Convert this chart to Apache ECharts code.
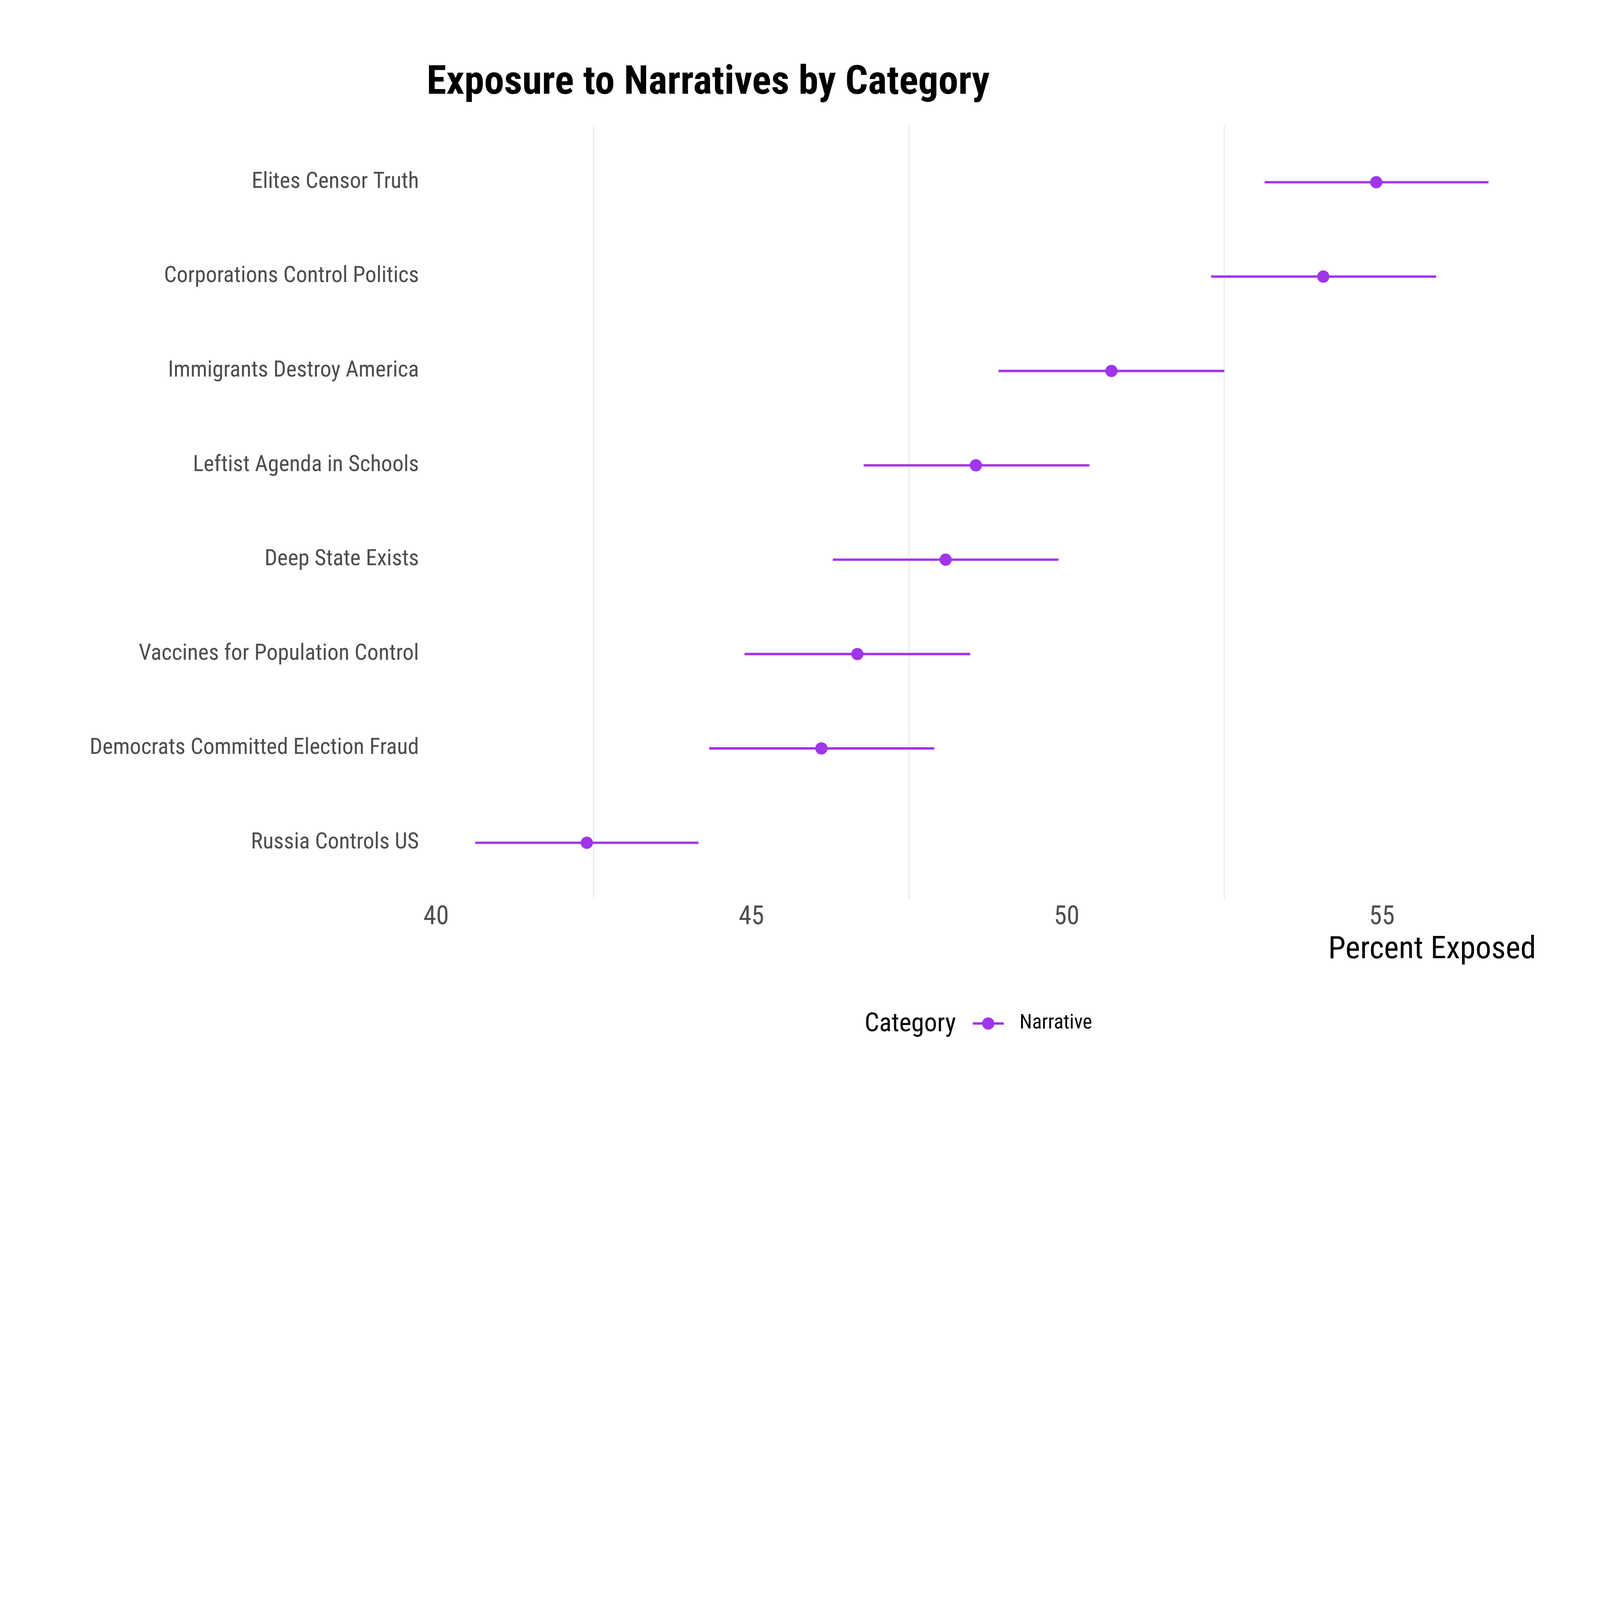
<!DOCTYPE html>
<html>
<head>
<meta charset="utf-8">
<script src="https://cdn.jsdelivr.net/npm/echarts@6/dist/echarts.min.js"></script>
<style>
html,body{margin:0;padding:0;background:#ffffff;overflow:hidden;}
</style>
</head>
<body>
<div id="chart"></div>
<script>
// ---- data ----
const categories = [
  'Elites Censor Truth',
  'Corporations Control Politics',
  'Immigrants Destroy America',
  'Leftist Agenda in Schools',
  'Deep State Exists',
  'Vaccines for Population Control',
  'Democrats Committed Election Fraud',
  'Russia Controls US'
];
const estimates = [54.91, 54.07, 50.71, 48.56, 48.08, 46.68, 46.11, 42.39];
const lowerCI   = [53.14, 52.29, 48.92, 46.78, 46.29, 44.89, 44.33, 40.62];
const upperCI   = [56.69, 55.86, 52.50, 50.36, 49.87, 48.47, 47.90, 44.16];
const xTickValues = [40, 45, 50, 55];
const xGridValues = [42.5, 47.5, 52.5];
const seriesName = 'Narrative';

// ---- layout (designed for 6000x4200, scaled to the window) ----
const BASE_W = 6000, BASE_H = 4200;
const s = Math.min((window.innerWidth || BASE_W) / BASE_W, (window.innerHeight || BASE_H) / BASE_H);
const px = v => v * s;
const el = document.getElementById('chart');
el.style.width = Math.round(BASE_W * s) + 'px';
el.style.height = Math.round(BASE_H * s) + 'px';

const FONT = "'Roboto Condensed', 'Roboto', sans-serif";
const PURPLE = '#A035EC';

const seriesData = categories.map((c, i) => [lowerCI[i], upperCI[i], estimates[i], i]);

const chart = echarts.init(el, null, {renderer: 'canvas'});

const iconPath = 'path://M0,18.5L116,18.5L116,27.5L0,27.5Z M35,23A23,23,0,1,1,81,23A23,23,0,1,1,35,23Z';

const option = {
  backgroundColor: '#ffffff',
  animation: false,
  title: [
    {
      text: 'Exposure to Narratives by Category',
      left: px(1600), top: px(239), padding: 0,
      textStyle: {fontFamily: FONT, fontSize: px(150), fontWeight: 'bold', color: '#000000'}
    },
    {
      text: 'Percent Exposed',
      right: px(240), top: px(3505), padding: 0,
      textStyle: {fontFamily: FONT, fontSize: px(118), fontWeight: 'normal', color: '#000000'}
    },
    {
      text: 'Category',
      left: px(3242), top: px(3795), padding: 0,
      textStyle: {fontFamily: FONT, fontSize: px(97), fontWeight: 'normal', color: '#000000'}
    }
  ],
  legend: {
    data: [seriesName],
    left: px(3648), top: px(3800), padding: 0,
    itemWidth: px(116), itemHeight: px(47),
    icon: iconPath,
    itemStyle: {color: PURPLE},
    textStyle: {fontFamily: FONT, fontSize: px(76), color: '#000000', padding: [0, 0, 0, px(52)]}
  },
  grid: {left: px(1593), right: px(229), top: px(471), bottom: px(827), containLabel: false},
  xAxis: {
    type: 'value',
    min: 39.82, max: 57.49,
    axisLine: {show: false},
    axisTick: {show: false},
    splitLine: {show: false},
    axisLabel: {
      customValues: xTickValues,
      fontFamily: FONT, fontSize: px(97), color: '#4D4D4D', margin: px(20),
      formatter: v => String(v)
    }
  },
  yAxis: {
    type: 'value',
    min: -0.6, max: 7.6, inverse: true,
    axisLine: {show: false},
    axisTick: {show: false},
    splitLine: {show: false},
    axisLabel: {
      customValues: categories.map((c, i) => i),
      fontFamily: FONT, fontSize: px(84), color: '#4D4D4D', margin: px(22),
      padding: [px(14), 0, 0, 0],
      formatter: v => (Number.isInteger(v) && categories[v] !== undefined) ? categories[v] : ''
    }
  },
  series: [
    {
      type: 'line',
      name: 'grid',
      data: [],
      z: 1,
      silent: true,
      markLine: {
        silent: true,
        symbol: ['none', 'none'],
        label: {show: false},
        lineStyle: {color: '#E2E2E2', width: px(3), type: 'solid'},
        data: xGridValues.map(v => ({xAxis: v}))
      }
    },
    {
      type: 'custom',
      name: seriesName,
      z: 5,
      itemStyle: {color: PURPLE},
      encode: {x: [0, 1, 2], y: 3},
      data: seriesData,
      renderItem: function (params, api) {
        const row = api.value(3);
        const p1 = api.coord([api.value(0), row]);
        const p2 = api.coord([api.value(1), row]);
        const c = api.coord([api.value(2), row]);
        return {
          type: 'group',
          children: [
            {type: 'line', shape: {x1: p1[0], y1: p1[1], x2: p2[0], y2: p2[1]},
             style: {stroke: PURPLE, lineWidth: px(9)}},
            {type: 'circle', shape: {cx: c[0], cy: c[1], r: px(23)},
             style: {fill: PURPLE}}
          ]
        };
      }
    }
  ]
};
chart.setOption(option);
</script>
</body>
</html>
